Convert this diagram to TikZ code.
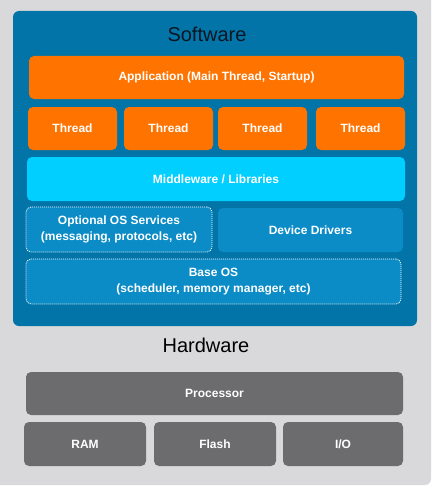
\documentclass[tikz,border=0pt]{standalone}
\usepackage{fontspec}
\setmainfont{Liberation Sans}
\usepackage{xcolor}
\usepackage{tikz}

\definecolor{bgGrey}{HTML}{D9D9DB}
\definecolor{swBlue}{HTML}{0274A8}
\definecolor{osBlue}{HTML}{0C8CC6}
\definecolor{appOrange}{HTML}{FF7300}
\definecolor{mwCyan}{HTML}{00CFFF}
\definecolor{hwGrey}{HTML}{6C6C6F}
\definecolor{titleInk}{HTML}{0B1622}

\tikzset{
  layer/.style={rectangle,rounded corners=5pt,inner sep=0pt,outer sep=0pt,
    text=white,align=center,font=\fontsize{12}{15.5}\selectfont\bfseries},
  appbox/.style={layer,fill=appOrange},
  mwbox/.style={layer,fill=mwCyan},
  osbox/.style={layer,fill=osBlue},
  optbox/.style={osbox,draw=white,line width=0.8pt,dash pattern=on 1pt off 1pt},
  hwbox/.style={layer,fill=hwGrey},
  heading/.style={font=\fontsize{20}{24}\selectfont,inner sep=0pt}
}

\begin{document}
\begin{tikzpicture}[x=1pt,y=-1pt]
    \useasboundingbox (0,0) rectangle (432,487);
    \fill[white] (0,0) rectangle (432,487);
    \begin{scope}
      \clip (0,0) rectangle (432,487);
      \fill[bgGrey,rounded corners=6pt] (-10,-10) rectangle (431,485);
    \end{scope}

    % software stack
    \fill[swBlue,rounded corners=6pt] (13,11) rectangle (417,326);
    \node[heading,text=titleInk] (sw) at (207,34) {Software};

    \node[appbox,minimum width=375pt,minimum height=43pt] (app) at (216.5,77.5) {Application (Main Thread, Startup)};
    \foreach \x/\i in {72.5/1,168.5/2,262.5/3,360.5/4}
      \node[appbox,minimum width=89pt,minimum height=43pt] (thr\i) at (\x,128.5) {Thread};

    \node[mwbox,minimum width=378pt,minimum height=44pt] (mw) at (216,179) {Middleware / Libraries};

    \node[optbox,minimum width=186pt,minimum height=45pt] (opt) at (119,229.5) {Optional OS Services\\(messaging, protocols, etc)};
    \node[osbox,minimum width=185pt,minimum height=44pt] (drv) at (310.5,230) {Device Drivers};
    \node[optbox,minimum width=375pt,minimum height=45pt] (base) at (213.5,281.5) {Base OS\\(scheduler, memory manager, etc)};

    % hardware
    \node[heading,text=black] (hw) at (206,345) {Hardware};

    \node[hwbox,minimum width=377pt,minimum height=43pt] (cpu) at (214.5,393.5) {Processor};
    \node[hwbox,minimum width=122pt,minimum height=44pt] (ram) at (85,444) {RAM};
    \node[hwbox,minimum width=122pt,minimum height=44pt] (flash) at (215,444) {Flash};
    \node[hwbox,minimum width=120pt,minimum height=44pt] (io) at (343,444) {I/O};
\end{tikzpicture}
\end{document}
